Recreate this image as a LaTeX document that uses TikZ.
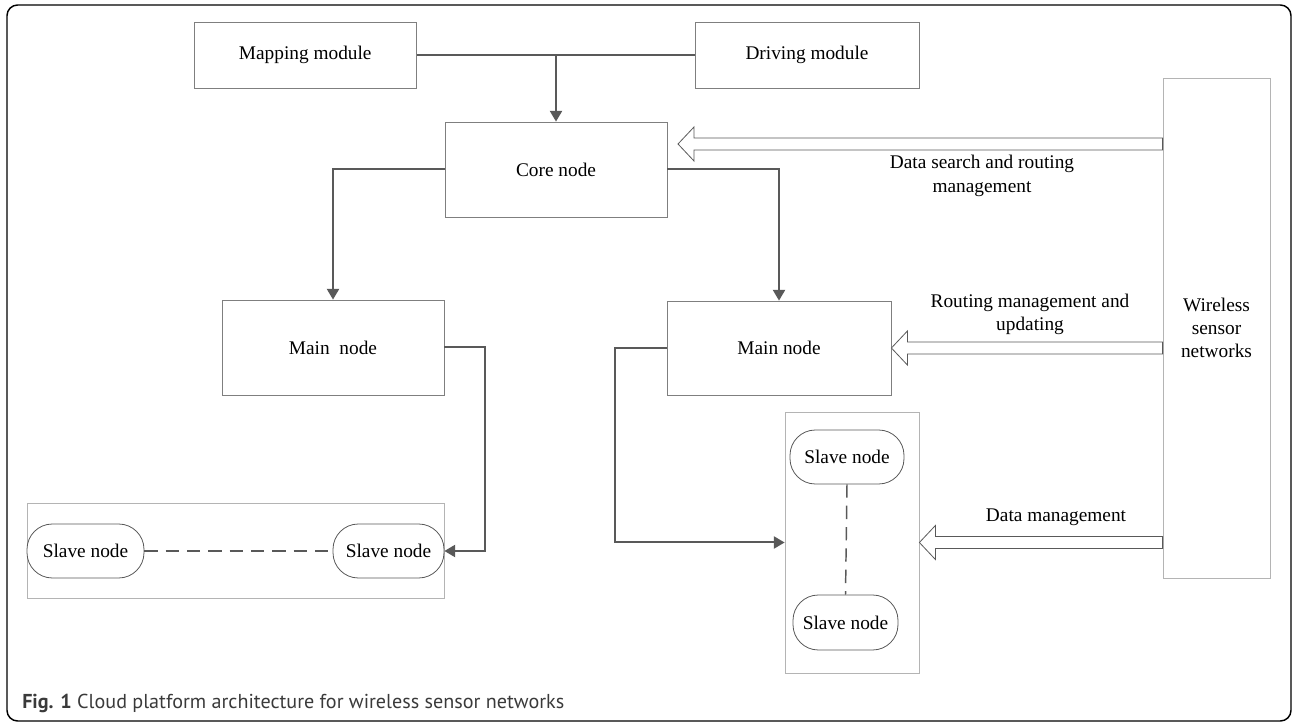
\documentclass[tikz,border=0pt]{standalone}
\usepackage{fontspec}
\setmainfont{Liberation Serif}
\newfontfamily\diagfont{Liberation Serif}
\newfontfamily\capfont{PT Sans}
\usetikzlibrary{arrows.meta,calc}
\definecolor{boxgray}{HTML}{7F7F7F}
\definecolor{lightgrayb}{HTML}{B4B4B4}
\definecolor{darkg}{HTML}{595959}
\definecolor{captext}{HTML}{3A3A3A}
\tikzset{
  txt/.style={font=\diagfont\fontsize{14.5}{17.5}\selectfont, align=center},
  box/.style={txt, draw=boxgray, line width=0.6pt, fill=white, inner sep=0pt},
  slave/.style={txt, draw=darkg, line width=0.6pt, fill=white, rounded corners=19pt, inner sep=0pt},
  cont/.style={draw=lightgrayb, line width=0.6pt, inner sep=0pt},
  arr/.style={draw=darkg, line width=1.5pt, -{Triangle[length=8pt,width=9pt]}},
  hollow/.style={draw=darkg, line width=0.6pt, fill=white, line join=miter},
  lbl/.style={txt, inner sep=0pt},
  dashline/.style={draw=darkg, line width=1.1pt, dash pattern=on 10pt off 6pt},
}
\newcommand\hollowarrow[2]{%
  \draw[hollow] (#1) -- ++(16,-17) -- ++(0,11) -- ($(#2.west |- #1)+(0,-6)$)
    -- ($(#2.west |- #1)+(0,6)$) -- ($(#1)+(16,6)$) -- ++(0,11) -- cycle;}
\begin{document}
\begin{tikzpicture}[x=0.75pt, y=-0.75pt]
\useasboundingbox (0,0) rectangle (1293,723);
\draw[black, line width=1.1pt, rounded corners=8pt] (7,5) rectangle (1291,721);

% top modules and core
\node[box, minimum width=167pt, minimum height=49.5pt] (map) at (305.25,55) {Mapping module};
\node[box, minimum width=168pt, minimum height=49.5pt] (drv) at (807,55) {Driving module};
\node[box, minimum width=166.5pt, minimum height=71.25pt] (core) at (556,169.5) {Core node};
\node[box, minimum width=166.5pt, minimum height=71.25pt] (mainL) at (333,347.5) {Main\ \ node};
\node[box, minimum width=168pt, minimum height=70.5pt] (mainR) at (779,348) {Main node};
\node[box, draw=lightgrayb, minimum width=80.25pt, minimum height=375pt] (wsn) at (1216.5,328) {Wireless\\sensor\\networks};

% slave containers
\node[cont, minimum width=312.75pt, minimum height=71.25pt] (contL) at (235.5,550.5) {};
\node[cont, minimum width=100.5pt, minimum height=195.75pt] (contR) at (852,542.5) {};
\node[slave, minimum width=87.75pt, minimum height=40.5pt] (slL) at (85.5,551) {Slave node};
\node[slave, minimum width=83.25pt, minimum height=40.5pt] (slR) at (388.5,551) {Slave node};
\node[slave, minimum width=85.5pt, minimum height=40.5pt] (slT) at (847,457) {Slave node};
\node[slave, minimum width=78.75pt, minimum height=41.25pt] (slB) at (845.5,622.5) {Slave node};

% labels
\node[lbl] (l1) at (982,176) {Data search and routing\\management};
\node[lbl] (l2) at (1030,314.5) {Routing management and\\updating};
\node[lbl] (l3) at (1056,517) {Data management};

% solid connectors
\draw[draw=darkg, line width=1.5pt] (map.east) -- (drv.west);
\draw[arr] (map.east -| core.north) -- (core.north);
\draw[arr] (core.west) -| (mainL.north);
\draw[arr] (core.east) -| (mainR.north);
\draw[arr] (mainL.east) -- ++(41,0) |- (slR.east);
\draw[arr] (mainR.west) -- ++(-52,0) |- (contR.west);

% dashed links
\draw[dashline] (slL.east) -- (slR.west);
\draw[dashline] (slT.south) -- (slB.north);

% hollow arrows from the wireless sensor networks
\coordinate (t1) at (678,144);
\hollowarrow{t1}{wsn}
\hollowarrow{mainR.east}{wsn}
\hollowarrow{contR.east}{wsn}

% caption
\node[anchor=base west, inner sep=0pt, font=\capfont\fontsize{15.1}{18}\selectfont, text=captext] (cap) at (22,708) {\textbf{Fig. 1} Cloud platform architecture for wireless sensor networks};
\end{tikzpicture}
\end{document}
